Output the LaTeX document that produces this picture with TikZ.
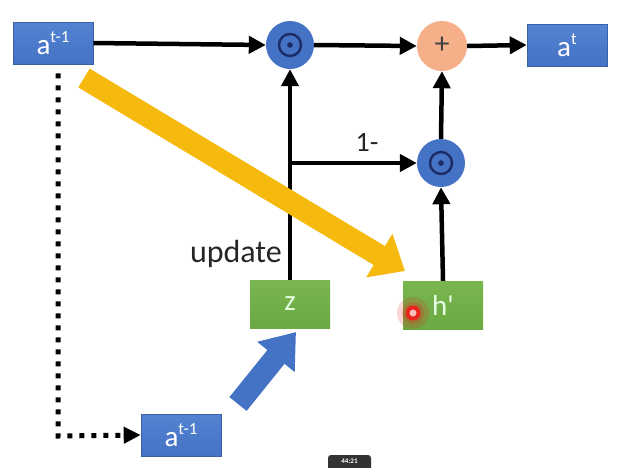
\documentclass[tikz,border=0pt]{standalone}
\usepackage{fontspec}
\setmainfont{Carlito}
% same face without TeX quote mapping, for a straight prime
\newfontfamily\plainq{Carlito}
\usetikzlibrary{arrows.meta,calc}
\definecolor{boxblue}{HTML}{4472C4}
\definecolor{boxbluetop}{HTML}{5483D2}
\definecolor{boxgreen}{HTML}{6BA942}
\definecolor{boxgreentop}{HTML}{79B650}
\definecolor{ringnavy}{HTML}{1C2C66}
\definecolor{plusfill}{HTML}{F5B08A}
\definecolor{hlyellow}{HTML}{F6B90E}
\definecolor{laser}{HTML}{E8261E}
\begin{document}
\begin{tikzpicture}[x=1pt,y=-1pt,
  vecbox/.style={rectangle, top color=boxbluetop, bottom color=boxblue,
    draw=boxblue!85!black, line width=0.6pt, minimum width=80pt, minimum height=42pt,
    inner sep=0pt, text=white, font=\fontsize{29}{30}\selectfont},
  gatebox/.style={rectangle, top color=boxgreentop, bottom color=boxgreen,
    minimum width=80pt, minimum height=48pt, inner sep=0pt,
    text=white!90!green, font=\fontsize{29}{30}\selectfont},
  mulnode/.style={circle, fill=boxblue, minimum size=48pt, inner sep=0pt},
  addnode/.style={circle, fill=plusfill, minimum size=50pt, inner sep=0pt},
  arr/.style={line width=4.5pt, -{Triangle[length=17pt,width=17pt]}},
  dotarr/.style={line width=5pt, dash pattern=on 5pt off 7pt,
    -{Triangle[length=17pt,width=16pt]}},
  lbl/.style={text=black!85, inner sep=0pt}]
\clip (0,0) rectangle (620,467);
\fill[white] (0,0) rectangle (620,467);

% state and gate boxes
\newcommand{\stt}[1]{a\raisebox{0.42em}{\fontsize{17}{18}\selectfont #1}}
\node[vecbox] (a0) at (53,43) {\stt{t-1}};
\node[vecbox] (at) at (567,45) {\stt{t}};
\node[vecbox] (a1) at (181,435) {\stt{t-1}};
\node[gatebox] (z) at (290,304) {z};
\node[gatebox] (hp) at (443,305) {\plainq h'};

% element-wise product and sum nodes
\node[mulnode] (m1) at (290,45) {};
\node[mulnode] (m2) at (441,163) {};
\node[addnode] (plus) at (442,46) {\fontsize{30}{30}\selectfont\color{black!75}\raisebox{0.05em}{+}};
\foreach \m in {m1,m2}{
  \draw[ringnavy, line width=2.4pt] (\m.center) circle (11pt);
  \fill[ringnavy] (\m.center) circle (2.8pt);
}

% connectors
\draw[arr] (a0.east) -- (m1.west);
\draw[arr] (m1.east) -- (plus.west);
\draw[arr] (plus.east) -- (at.west);
\draw[arr] (z.north) -- (m1.south);
\coordinate (br) at (290,163);
\draw[arr] (br) -- (m2.west);
\draw[arr] (hp.north) -- (m2.south);
\draw[arr] (m2.north) -- (plus.south);
\coordinate (dturn) at (58,436);
\draw[dotarr] ([xshift=5pt,yshift=-9pt]a0.south) -- (dturn) -- (a1.west);

% labels
\node[lbl, anchor=south east, font=\fontsize{32}{34}\selectfont] (upd) at (282,268) {update};
\node[lbl, anchor=south, font=\fontsize{28}{30}\selectfont] (one) at (367,152) {1-};

% highlight arrows
\coordinate (ytail) at (84,78);
\coordinate (ytip) at (405,271);
\draw[hlyellow, line width=22pt, -{Triangle[length=30pt,width=49pt]}] (ytail) -- (ytip);
\coordinate (btail) at (238,404);
\coordinate (btip) at (296,332);
\draw[boxblue, line width=22pt, -{Triangle[length=32pt,width=46pt]}] (btail) -- (btip);

% pointer dot
\fill[laser, opacity=0.18] (413,313) circle (16pt);
\fill[laser, opacity=0.25] (413,313) circle (11pt);
\fill[laser] (413,313) circle (7.5pt);
\fill[white!70!laser] (413,313) circle (3.5pt);

% timestamp overlay
\fill[black!80, rounded corners=3pt] (328,455) rectangle (371,480);
\node[text=white, font=\fontsize{7}{7}\selectfont\bfseries, anchor=center] (ts) at (349.5,461.5) {44:21};
\end{tikzpicture}
\end{document}
